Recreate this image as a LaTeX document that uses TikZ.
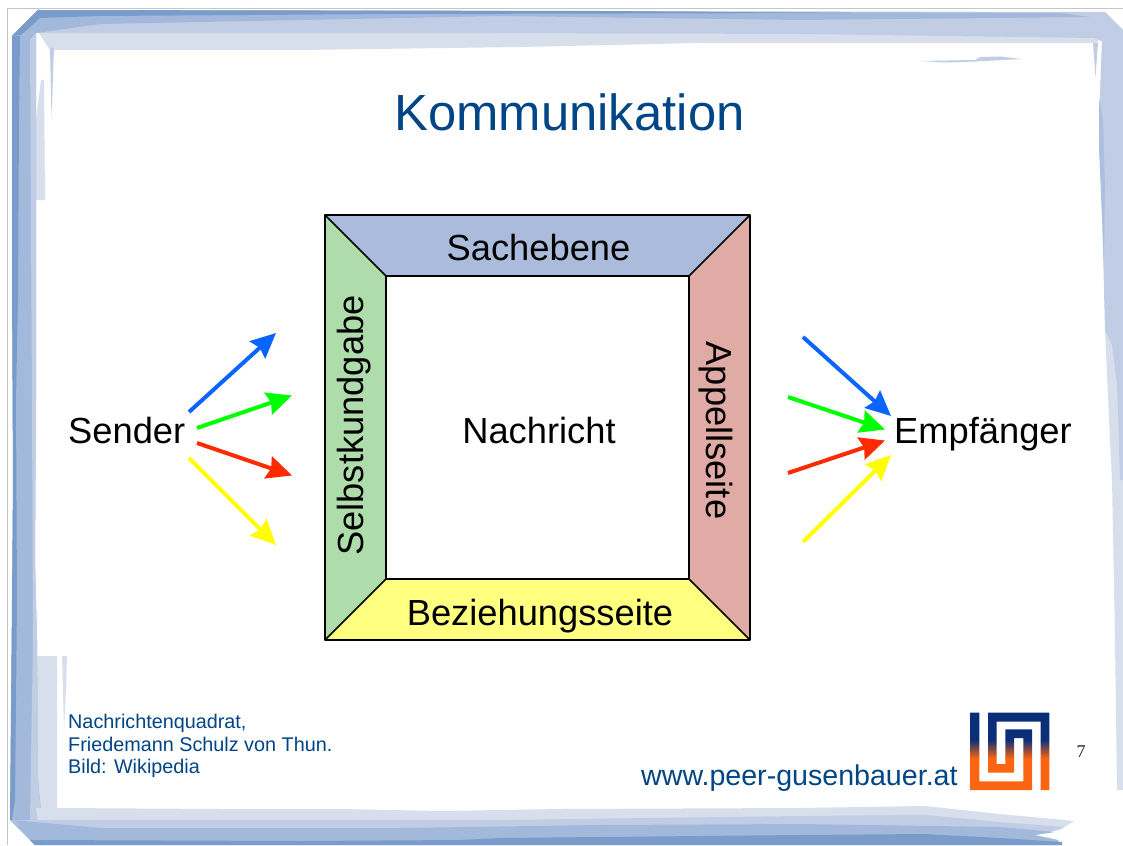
\documentclass[tikz,border=0pt]{standalone}
\usepackage{fontspec}
\setmainfont{Liberation Sans}
\newfontfamily\serifnum{Liberation Serif}
\usetikzlibrary{arrows.meta}
\definecolor{brdark}{HTML}{7A9CCB}
\definecolor{brmid}{HTML}{A3B9DC}
\definecolor{brlight}{HTML}{C1CDE4}
\definecolor{brpale}{HTML}{D8DFEC}
\definecolor{slidetext}{HTML}{004586}
\definecolor{logoblue}{HTML}{0A2F78}
\definecolor{logoorange}{HTML}{FB6410}
\definecolor{sachfill}{HTML}{ABBBDC}
\definecolor{selbstfill}{HTML}{AEDCAA}
\definecolor{appellfill}{HTML}{E0AAA5}
\definecolor{bezfill}{HTML}{FFFF80}
\definecolor{arrblue}{HTML}{0A64FF}
\definecolor{arrgreen}{HTML}{00FF00}
\definecolor{arrred}{HTML}{FF2A00}
\definecolor{arryellow}{HTML}{FFFF00}
\tikzset{
  side/.style={draw=black,line width=1.5pt,line join=round},
  big/.style={inner sep=0pt,font=\fontsize{36.3}{40}\selectfont,text=black},
  small/.style={inner sep=0pt,anchor=base west,font=\fontsize{19.8}{22}\selectfont,text=slidetext},
  msg/.style={line width=4pt,-{Stealth[length=25pt,width=23pt,inset=3pt]}},
}
\begin{document}
\begin{tikzpicture}[x=1pt,y=-1pt]
\useasboundingbox (0,0) rectangle (1123,845);
\fill[white] (0,0) rectangle (1123,845);
% page edge
\draw[gray!45,line width=1.2pt] (7.5,845) -- (7.5,8.5) -- (1123,8.5);
% brush frame: top
\fill[brpale] (38,32) -- (50,50) -- (300,50) -- (520,47) -- (700,43) -- (1097,43) -- (1105,30) -- (1000,20) -- (200,20) -- cycle;
\fill[brlight] (12,36) -- (38,10) -- (1105,12) -- (1123,30) -- (1123,50) -- (1094,38) -- (800,34) -- (500,33) -- (36,33) -- cycle;
\fill[brmid] (12,36) -- (38,10) -- (500,11) -- (1060,13) -- (1090,17) -- (800,20) -- (500,16) -- (100,24) -- (36,33) -- cycle;
\fill[brdark] (12,36) -- (38,10) -- (600,11) -- (850,13) -- (400,14) -- (100,16) -- (40,18) -- (20,36) -- cycle;
% top slivers
\fill[brlight] (920,61) -- (975,60) -- (980,57) -- (1000,56.5) -- (1022,59) -- (975,61.5) -- (945,62.5) -- cycle;
\fill[brlight] (1093,43) -- (1098,43) -- (1095.5,77) -- cycle;
\fill[brlight] (50,48) -- (54,48) -- (51.5,118) -- cycle;
\fill[brpale] (41,80) -- (44,80) -- (45,200) -- (36,200) -- (36,120) -- cycle;
% left
\fill[brpale] (36,656) -- (57,656) -- (57,808) -- (36,820) -- cycle;
\fill[brpale] (62,656) -- (67,656) -- (66,690) -- (64,730) -- cycle;
\fill[brmid] (12,36) -- (36,33) -- (36,200) -- (36,400) -- (35,560) -- (37,640) -- (38,780) -- (42,820) -- (35,845) -- (10,820) -- (12,600) -- (13,480) -- (12,280) -- cycle;
\fill[brlight] (30,40) -- (36,33) -- (36,400) -- (35,560) -- (37,640) -- (38,780) -- (42,825) -- (30,820) -- (33,640) -- (32,400) -- cycle;
\fill[brdark] (12,36) -- (20,36) -- (19,120) -- (18,300) -- (16,400) -- (17,600) -- (15,800) -- (12,820) -- (10,820) -- (12,600) -- (13,480) -- (12,280) -- cycle;
% right
\fill[brpale] (1105,330) -- (1123,330) -- (1123,790) -- (1117,790) -- (1115,640) -- (1112,480) -- (1110,440) -- cycle;
\fill[brlight] (1102,38) -- (1123,30) -- (1123,480) -- (1120,480) -- (1117,385) -- (1112,345) -- (1105,330) -- (1103,250) -- (1099,120) -- cycle;
\fill[brmid!70!brlight] (1099,98) -- (1103,120) -- (1105,190) -- (1104,260) -- (1102,215) -- (1099,150) -- cycle;
% bottom
\fill[brpale] (57,808) -- (220,809) -- (340,809) -- (440,811) -- (560,809) -- (800,808) -- (925,806) -- (1000,814) -- (1074,821) -- (1060,830) -- (1000,840) -- (40,835) -- (36,808) -- cycle;
\fill[brlight] (36,820) -- (200,820) -- (500,820) -- (800,816) -- (925,815) -- (1000,822) -- (1064,827) -- (1050,832) -- (1000,842) -- (40,845) -- (12,820) -- cycle;
\fill[brmid] (14,820) -- (100,828) -- (400,828) -- (600,825) -- (800,824) -- (1000,827) -- (1055,832) -- (1035,835) -- (1058,840) -- (1060,845) -- (35,845) -- cycle;
\fill[brdark] (30,840) -- (300,841) -- (460,840) -- (500,838) -- (800,835) -- (925,834) -- (1000,838) -- (1062,842) -- (1062,845) -- (35,845) -- cycle;
% title and slide texts
\node[inner sep=0pt,anchor=base,font=\fontsize{50.8}{54}\selectfont,text=slidetext] (title) at (569.5,131) {Kommunikation};
\node[small] (note1) at (68,728) {Nachrichtenquadrat,};
\node[small] (note2) at (68,751) {Friedemann Schulz von Thun.};
\node[small] (note3) at (68,773) {Bild: Wikipedia};
\node[inner sep=0pt,anchor=base west,font=\fontsize{28.6}{30}\selectfont,text=slidetext] (web) at (641,785) {www.peer-gusenbauer.at};
\node[inner sep=0pt,anchor=base,font=\serifnum\fontsize{18}{20}\selectfont,text=black!85] (pagenum) at (1081,757) {7};
% logo
\begin{scope}[shift={(950,690)},x=0.33333pt,y=-0.33333pt]
\clip (60,68) -- (88,68) -- (88,274) -- (220,274) -- (220,144) -- (192,144) -- (192,248) -- (114,248) -- (114,68) -- (298,68) -- (298,300) -- (272,300) -- (272,95) -- (140,95) -- (140,222) -- (166,222) -- (166,118) -- (246,118) -- (246,300) -- (60,300) -- cycle;
\fill[logoblue] (55,60) rectangle (305,150);
\shade[top color=logoblue,bottom color=logoorange] (55,150) rectangle (305,205);
\fill[logoorange] (55,205) rectangle (305,305);
\end{scope}
% square
\coordinate (oa) at (325,215);
\coordinate (ob) at (750,215);
\coordinate (oc) at (750,640);
\coordinate (od) at (325,640);
\coordinate (ia) at (386,276);
\coordinate (ib) at (689,276);
\coordinate (ic) at (689,579);
\coordinate (id) at (386,579);
\path[fill=sachfill] (oa) -- (ob) -- (ib) -- (ia) -- cycle;
\path[fill=appellfill] (ob) -- (oc) -- (ic) -- (ib) -- cycle;
\path[fill=bezfill] (oc) -- (od) -- (id) -- (ic) -- cycle;
\path[fill=selbstfill] (od) -- (oa) -- (ia) -- (id) -- cycle;
\draw[side] (oa) -- (ob) -- (oc) -- (od) -- cycle;
\draw[side] (ia) -- (ib) -- (ic) -- (id) -- cycle;
\draw[side] (oa) -- (ia) (ob) -- (ib) (oc) -- (ic) (od) -- (id);
\node[big,anchor=base] (sach) at (538.5,260) {Sachebene};
\node[big,anchor=base] (nach) at (539,443) {Nachricht};
\node[big,anchor=base] (bez) at (540,625.5) {Beziehungsseite};
\node[big,anchor=base,rotate=90] (selbst) at (363,425.5) {Selbstkundgabe};
\node[big,anchor=base,rotate=-90] (appell) at (706.5,430.5) {Appellseite};
\node[big,anchor=base west] (sender) at (68,443) {Sender};
\node[big,anchor=base west] (empf) at (894,443) {Empfänger};
% arrows
\coordinate (sb0) at (189,412); \coordinate (sb1) at (276,333);
\coordinate (sg0) at (197,428); \coordinate (sg1) at (292,395.5);
\coordinate (sr0) at (197,443); \coordinate (sr1) at (292,475.5);
\coordinate (sy0) at (189,458); \coordinate (sy1) at (276,545);
\coordinate (eb0) at (803,337); \coordinate (eb1) at (891,416);
\coordinate (eg0) at (788,397); \coordinate (eg1) at (885,429.5);
\coordinate (er0) at (788,473); \coordinate (er1) at (885,440.5);
\coordinate (ey0) at (803,542); \coordinate (ey1) at (891,455);
\draw[msg,arrblue] (sb0) -- (sb1);
\draw[msg,arrgreen] (sg0) -- (sg1);
\draw[msg,arrred] (sr0) -- (sr1);
\draw[msg,arryellow] (sy0) -- (sy1);
\draw[msg,arrblue] (eb0) -- (eb1);
\draw[msg,arrgreen] (eg0) -- (eg1);
\draw[msg,arrred] (er0) -- (er1);
\draw[msg,arryellow] (ey0) -- (ey1);
\end{tikzpicture}
\end{document}
